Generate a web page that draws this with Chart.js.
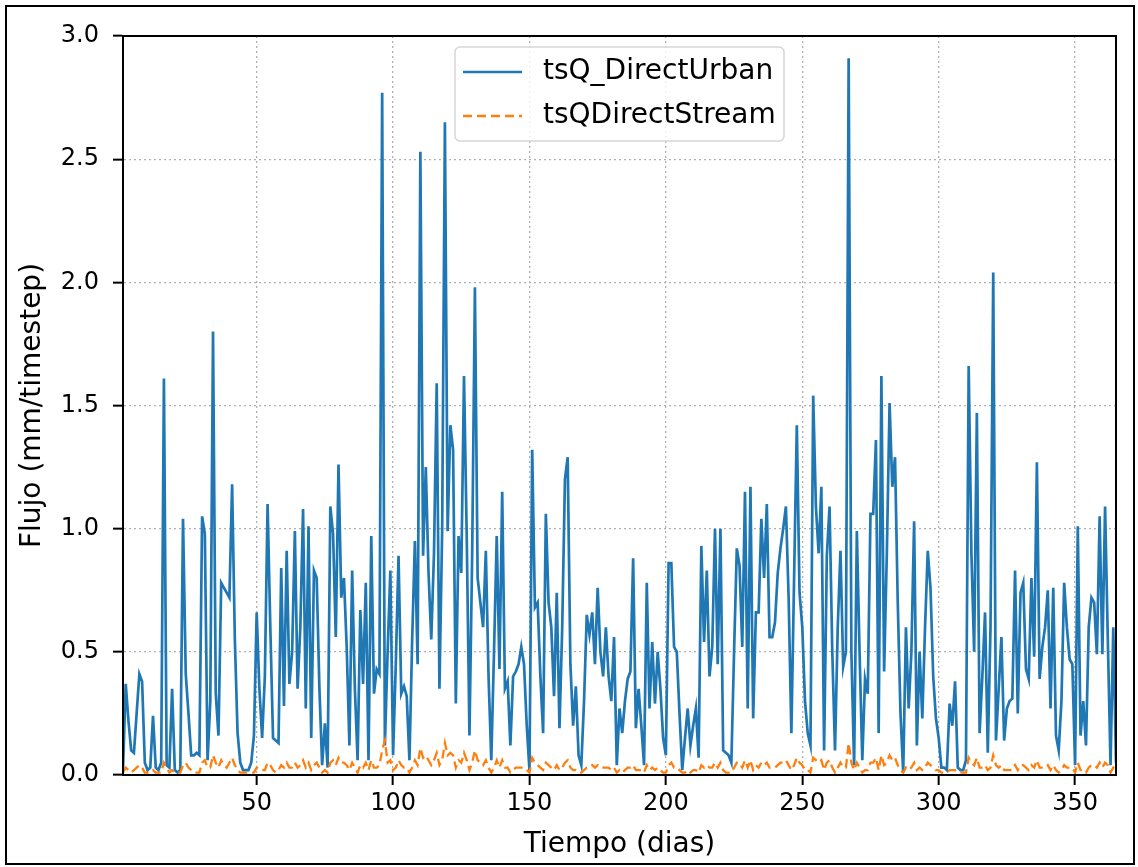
<!DOCTYPE html>
<html>
<head>
<meta charset="utf-8">
<title>Flujo</title>
<script src="https://cdn.jsdelivr.net/npm/chart.js@4.4.1/dist/chart.umd.min.js"></script>
<style>
  html, body { margin: 0; padding: 0; background: #fff; }
  #wrap { position: relative; width: 1138px; height: 867px; }
  #frame {
    position: absolute; left: 5px; top: 5px; width: 1126px; height: 856px;
    border: 2px solid #000; pointer-events: none;
  }
</style>
</head>
<body>
<div id="wrap">
  <canvas id="chart" width="1138" height="867"></canvas>
  <div id="frame"></div>
</div>
<script>
// Series names
const seriesNames = ['tsQ_DirectUrban', 'tsQDirectStream'];

// Tick values
const xTicks = [50, 100, 150, 200, 250, 300, 350];
const yTicks = [0.0, 0.5, 1.0, 1.5, 2.0, 2.5, 3.0];

// Daily values (day 1 .. 365)
const directUrban = [
  0.02, 0.37, 0.22, 0.10, 0.09, 0.25, 0.41, 0.38, 0.05, 0.02,
  0.03, 0.24, 0.03, 0.02, 0.05, 1.61, 0.04, 0.03, 0.35, 0.02,
  0.01, 0.02, 1.04, 0.41, 0.25, 0.08, 0.08, 0.09, 0.08, 1.05,
  0.98, 0.06, 0.30, 1.80, 0.33, 0.16, 0.78, 0.76, 0.74, 0.72,
  1.18, 0.55, 0.17, 0.05, 0.02, 0.02, 0.02, 0.05, 0.16, 0.66,
  0.35, 0.15, 0.40, 1.10, 0.60, 0.15, 0.14, 0.13, 0.84, 0.28,
  0.91, 0.37, 0.50, 0.99, 0.35, 0.60, 1.08, 0.27, 1.01, 0.15,
  0.83, 0.80, 0.35, 0.04, 0.21, 0.03, 1.09, 0.98, 0.56, 1.26,
  0.72, 0.80, 0.52, 0.12, 0.83, 0.35, 0.06, 0.67, 0.37, 0.78,
  0.06, 0.97, 0.33, 0.43, 0.41, 2.77, 0.12, 0.50, 0.83, 0.08,
  0.45, 0.89, 0.33, 0.36, 0.32, 0.06, 0.55, 0.95, 0.45, 2.53,
  0.89, 1.25, 0.82, 0.55, 0.90, 1.59, 0.35, 1.00, 2.65, 0.99,
  1.42, 1.32, 0.29, 0.97, 0.82, 1.62, 0.97, 0.16, 0.90, 1.98,
  0.80, 0.70, 0.60, 0.91, 0.40, 0.06, 0.50, 0.97, 0.43, 1.15,
  0.35, 0.38, 0.12, 0.40, 0.42, 0.45, 0.52, 0.45, 0.20, 0.02,
  1.32, 0.68, 0.70, 0.40, 0.17, 1.06, 0.70, 0.60, 0.32, 0.74,
  0.19, 0.60, 1.20, 1.29, 0.45, 0.20, 0.36, 0.08, 0.04, 0.30,
  0.65, 0.57, 0.66, 0.45, 0.76, 0.50, 0.40, 0.60, 0.40, 0.30,
  0.56, 0.04, 0.27, 0.17, 0.30, 0.39, 0.42, 0.88, 0.19, 0.35,
  0.20, 0.04, 0.78, 0.27, 0.54, 0.29, 0.50, 0.35, 0.15, 0.08,
  0.86, 0.86, 0.52, 0.50, 0.25, 0.02, 0.15, 0.27, 0.12, 0.20,
  0.27, 0.07, 0.93, 0.54, 0.83, 0.40, 0.52, 1.00, 0.45, 1.00,
  0.10, 0.09, 0.08, 0.05, 0.50, 0.92, 0.85, 0.52, 1.15, 0.27,
  1.17, 0.23, 0.66, 0.66, 1.04, 0.80, 1.10, 0.56, 0.56, 0.62,
  0.82, 0.92, 1.00, 1.09, 0.72, 0.17, 0.80, 1.42, 0.74, 0.60,
  0.30, 0.17, 0.12, 1.54, 1.09, 0.90, 1.17, 0.10, 0.89, 1.09,
  0.50, 0.10, 0.60, 0.91, 0.44, 0.50, 2.91, 0.50, 0.04, 0.99,
  0.50, 0.06, 0.39, 0.33, 1.06, 1.06, 1.36, 0.17, 1.62, 0.42,
  0.90, 1.51, 1.17, 1.29, 0.70, 0.25, 0.01, 0.60, 0.27, 0.50,
  1.03, 0.12, 0.50, 0.23, 0.60, 0.91, 0.76, 0.40, 0.23, 0.15,
  0.03, 0.03, 0.02, 0.29, 0.20, 0.38, 0.03, 0.02, 0.02, 0.06,
  1.66, 0.90, 0.50, 1.47, 0.17, 0.40, 0.66, 0.09, 0.60, 2.04,
  0.14, 0.35, 0.56, 0.14, 0.27, 0.30, 0.31, 0.83, 0.25, 0.74,
  0.78, 0.43, 0.39, 0.80, 0.48, 1.27, 0.39, 0.52, 0.60, 0.75,
  0.27, 0.76, 0.16, 0.10, 0.30, 0.78, 0.60, 0.47, 0.45, 0.04,
  1.01, 0.16, 0.30, 0.12, 0.60, 0.72, 0.70, 0.49, 1.05, 0.49,
  1.09, 0.55, 0.04, 0.60, 0.05
];

const directStream = [
  0.01, 0.03, 0.02, 0.01, 0.02, 0.03, 0.04, 0.03, 0.01, 0.01,
  0.01, 0.02, 0.01, 0.01, 0.01, 0.05, 0.03, 0.01, 0.02, 0.01,
  0.01, 0.01, 0.04, 0.05, 0.03, 0.02, 0.01, 0.01, 0.01, 0.05,
  0.06, 0.03, 0.03, 0.08, 0.05, 0.03, 0.06, 0.04, 0.03, 0.05,
  0.07, 0.04, 0.02, 0.01, 0.01, 0.01, 0.01, 0.01, 0.01, 0.03,
  0.02, 0.02, 0.02, 0.05, 0.04, 0.02, 0.01, 0.02, 0.04, 0.03,
  0.05, 0.03, 0.03, 0.05, 0.03, 0.04, 0.06, 0.03, 0.05, 0.02,
  0.04, 0.05, 0.03, 0.01, 0.02, 0.01, 0.05, 0.06, 0.04, 0.07,
  0.05, 0.05, 0.04, 0.02, 0.05, 0.03, 0.01, 0.04, 0.03, 0.05,
  0.02, 0.06, 0.03, 0.03, 0.04, 0.10, 0.14, 0.05, 0.06, 0.02,
  0.03, 0.06, 0.04, 0.03, 0.03, 0.01, 0.03, 0.06, 0.04, 0.11,
  0.07, 0.08, 0.06, 0.04, 0.06, 0.09, 0.04, 0.06, 0.13, 0.08,
  0.09, 0.08, 0.03, 0.06, 0.05, 0.09, 0.06, 0.02, 0.05, 0.10,
  0.06, 0.05, 0.04, 0.06, 0.03, 0.01, 0.03, 0.06, 0.03, 0.06,
  0.03, 0.03, 0.01, 0.02, 0.03, 0.03, 0.03, 0.03, 0.02, 0.01,
  0.07, 0.05, 0.04, 0.03, 0.02, 0.05, 0.04, 0.03, 0.02, 0.04,
  0.02, 0.03, 0.05, 0.06, 0.03, 0.02, 0.02, 0.01, 0.01, 0.02,
  0.03, 0.03, 0.04, 0.03, 0.04, 0.03, 0.03, 0.03, 0.03, 0.02,
  0.03, 0.01, 0.02, 0.01, 0.02, 0.03, 0.03, 0.04, 0.02, 0.02,
  0.02, 0.01, 0.04, 0.02, 0.03, 0.02, 0.03, 0.02, 0.01, 0.01,
  0.04, 0.05, 0.03, 0.03, 0.02, 0.01, 0.01, 0.02, 0.01, 0.02,
  0.02, 0.01, 0.04, 0.03, 0.04, 0.03, 0.03, 0.05, 0.03, 0.05,
  0.02, 0.01, 0.01, 0.01, 0.03, 0.05, 0.05, 0.03, 0.06, 0.03,
  0.06, 0.02, 0.04, 0.03, 0.05, 0.04, 0.05, 0.03, 0.03, 0.03,
  0.04, 0.05, 0.05, 0.06, 0.04, 0.02, 0.04, 0.07, 0.05, 0.04,
  0.02, 0.02, 0.01, 0.07, 0.06, 0.05, 0.06, 0.02, 0.05, 0.06,
  0.03, 0.01, 0.03, 0.05, 0.03, 0.03, 0.13, 0.05, 0.02, 0.05,
  0.03, 0.01, 0.02, 0.02, 0.05, 0.05, 0.07, 0.02, 0.08, 0.04,
  0.05, 0.08, 0.06, 0.07, 0.04, 0.02, 0.01, 0.03, 0.02, 0.03,
  0.05, 0.02, 0.03, 0.02, 0.03, 0.05, 0.04, 0.03, 0.02, 0.02,
  0.01, 0.01, 0.01, 0.02, 0.02, 0.02, 0.01, 0.01, 0.01, 0.01,
  0.07, 0.05, 0.04, 0.07, 0.03, 0.03, 0.04, 0.02, 0.03, 0.08,
  0.04, 0.03, 0.04, 0.02, 0.02, 0.02, 0.02, 0.04, 0.02, 0.04,
  0.04, 0.03, 0.02, 0.04, 0.03, 0.06, 0.03, 0.03, 0.03, 0.04,
  0.02, 0.04, 0.02, 0.01, 0.02, 0.04, 0.03, 0.03, 0.03, 0.01,
  0.05, 0.02, 0.02, 0.01, 0.03, 0.04, 0.04, 0.03, 0.05, 0.03,
  0.05, 0.04, 0.01, 0.03, 0.02
];

const FONT = 'DejaVu Sans';
const TICK_SIZE = 24;
const LABEL_SIZE = 28;

// Turn a value list into {x: day, y: value} points
function toPoints(values) {
  return values.map((v, i) => ({ x: i + 1, y: v }));
}

// Spines on all four sides, drawn over the lines like matplotlib does
const framePlugin = {
  id: 'frame',
  afterDatasetsDraw(chart) {
    const { ctx, chartArea: a } = chart;
    ctx.save();
    ctx.strokeStyle = '#000';
    ctx.lineWidth = 2;
    ctx.strokeRect(a.left, a.top, a.right - a.left, a.bottom - a.top);
    ctx.restore();
  }
};

// Legend box inside the axes, upper centre
const boxLegendPlugin = {
  id: 'boxLegend',
  afterDraw(chart) {
    const ctx = chart.ctx;
    const box = { x: 455, y: 47, w: 329, h: 94, r: 5 };
    ctx.save();
    ctx.beginPath();
    ctx.roundRect(box.x, box.y, box.w, box.h, box.r);
    ctx.fillStyle = 'rgba(255,255,255,0.8)';
    ctx.fill();
    ctx.strokeStyle = '#d6d6d6';
    ctx.lineWidth = 1.5;
    ctx.stroke();

    chart.data.datasets.forEach((ds, i) => {
      const y = 72 + i * 44;
      ctx.beginPath();
      ctx.setLineDash(ds.borderDash || []);
      ctx.strokeStyle = ds.borderColor;
      ctx.lineWidth = ds.borderWidth;
      ctx.moveTo(463, y);
      ctx.lineTo(522, y);
      ctx.stroke();
      ctx.setLineDash([]);
      ctx.fillStyle = '#000';
      ctx.font = LABEL_SIZE + 'px "' + FONT + '"';
      ctx.textBaseline = 'middle';
      ctx.fillText(ds.label, 543, y);
    });
    ctx.restore();
  }
};

const gridStyle = {
  color: '#b0b0b0',
  lineWidth: 1.3,
  drawTicks: true,
  tickLength: 10,
  tickColor: '#000',
  tickWidth: 2,
  tickBorderDash: []
};

const ctx = document.getElementById('chart').getContext('2d');

const chart = new Chart(ctx, {
  type: 'line',
  data: {
    datasets: [
      {
        label: seriesNames[0],
        data: toPoints(directUrban),
        borderColor: '#1f77b4',
        borderWidth: 2.7,
        pointRadius: 0,
        fill: false,
        order: 1
      },
      {
        label: seriesNames[1],
        data: toPoints(directStream),
        borderColor: '#ff7f0e',
        borderWidth: 2.3,
        borderDash: [9, 5],
        pointRadius: 0,
        fill: false,
        order: 0
      }
    ]
  },
  options: {
    responsive: false,
    animation: false,
    devicePixelRatio: 1,
    layout: { padding: { left: 0, top: 36, right: 22, bottom: 0 } },
    plugins: {
      legend: { display: false },
      tooltip: { enabled: false }
    },
    elements: { line: { tension: 0 } },
    scales: {
      x: {
        type: 'linear',
        min: 1,
        max: 365,
        afterFit(scale) { scale.height = 92; },
        afterBuildTicks(scale) { scale.ticks = xTicks.map(v => ({ value: v })); },
        ticks: {
          color: '#000',
          padding: 4,
          maxRotation: 0,
          font: { family: FONT, size: TICK_SIZE }
        },
        grid: gridStyle,
        border: { display: true, color: '#000', width: 2, dash: [2, 3] },
        title: {
          display: true,
          text: 'Tiempo (dias)',
          color: '#000',
          padding: { top: 0, bottom: 5 },
          font: { family: FONT, size: LABEL_SIZE }
        }
      },
      y: {
        min: 0,
        max: 3,
        afterFit(scale) { scale.width = 123; },
        afterBuildTicks(scale) { scale.ticks = yTicks.map(v => ({ value: v })); },
        ticks: {
          color: '#000',
          padding: 14,
          font: { family: FONT, size: TICK_SIZE },
          callback: value => value.toFixed(1)
        },
        grid: gridStyle,
        border: { display: true, color: '#000', width: 2, dash: [2, 3] },
        title: {
          display: true,
          text: 'Flujo (mm/timestep)',
          color: '#000',
          padding: { top: 16, bottom: 0 },
          font: { family: FONT, size: LABEL_SIZE }
        }
      }
    }
  },
  plugins: [framePlugin, boxLegendPlugin]
});
</script>
</body>
</html>
